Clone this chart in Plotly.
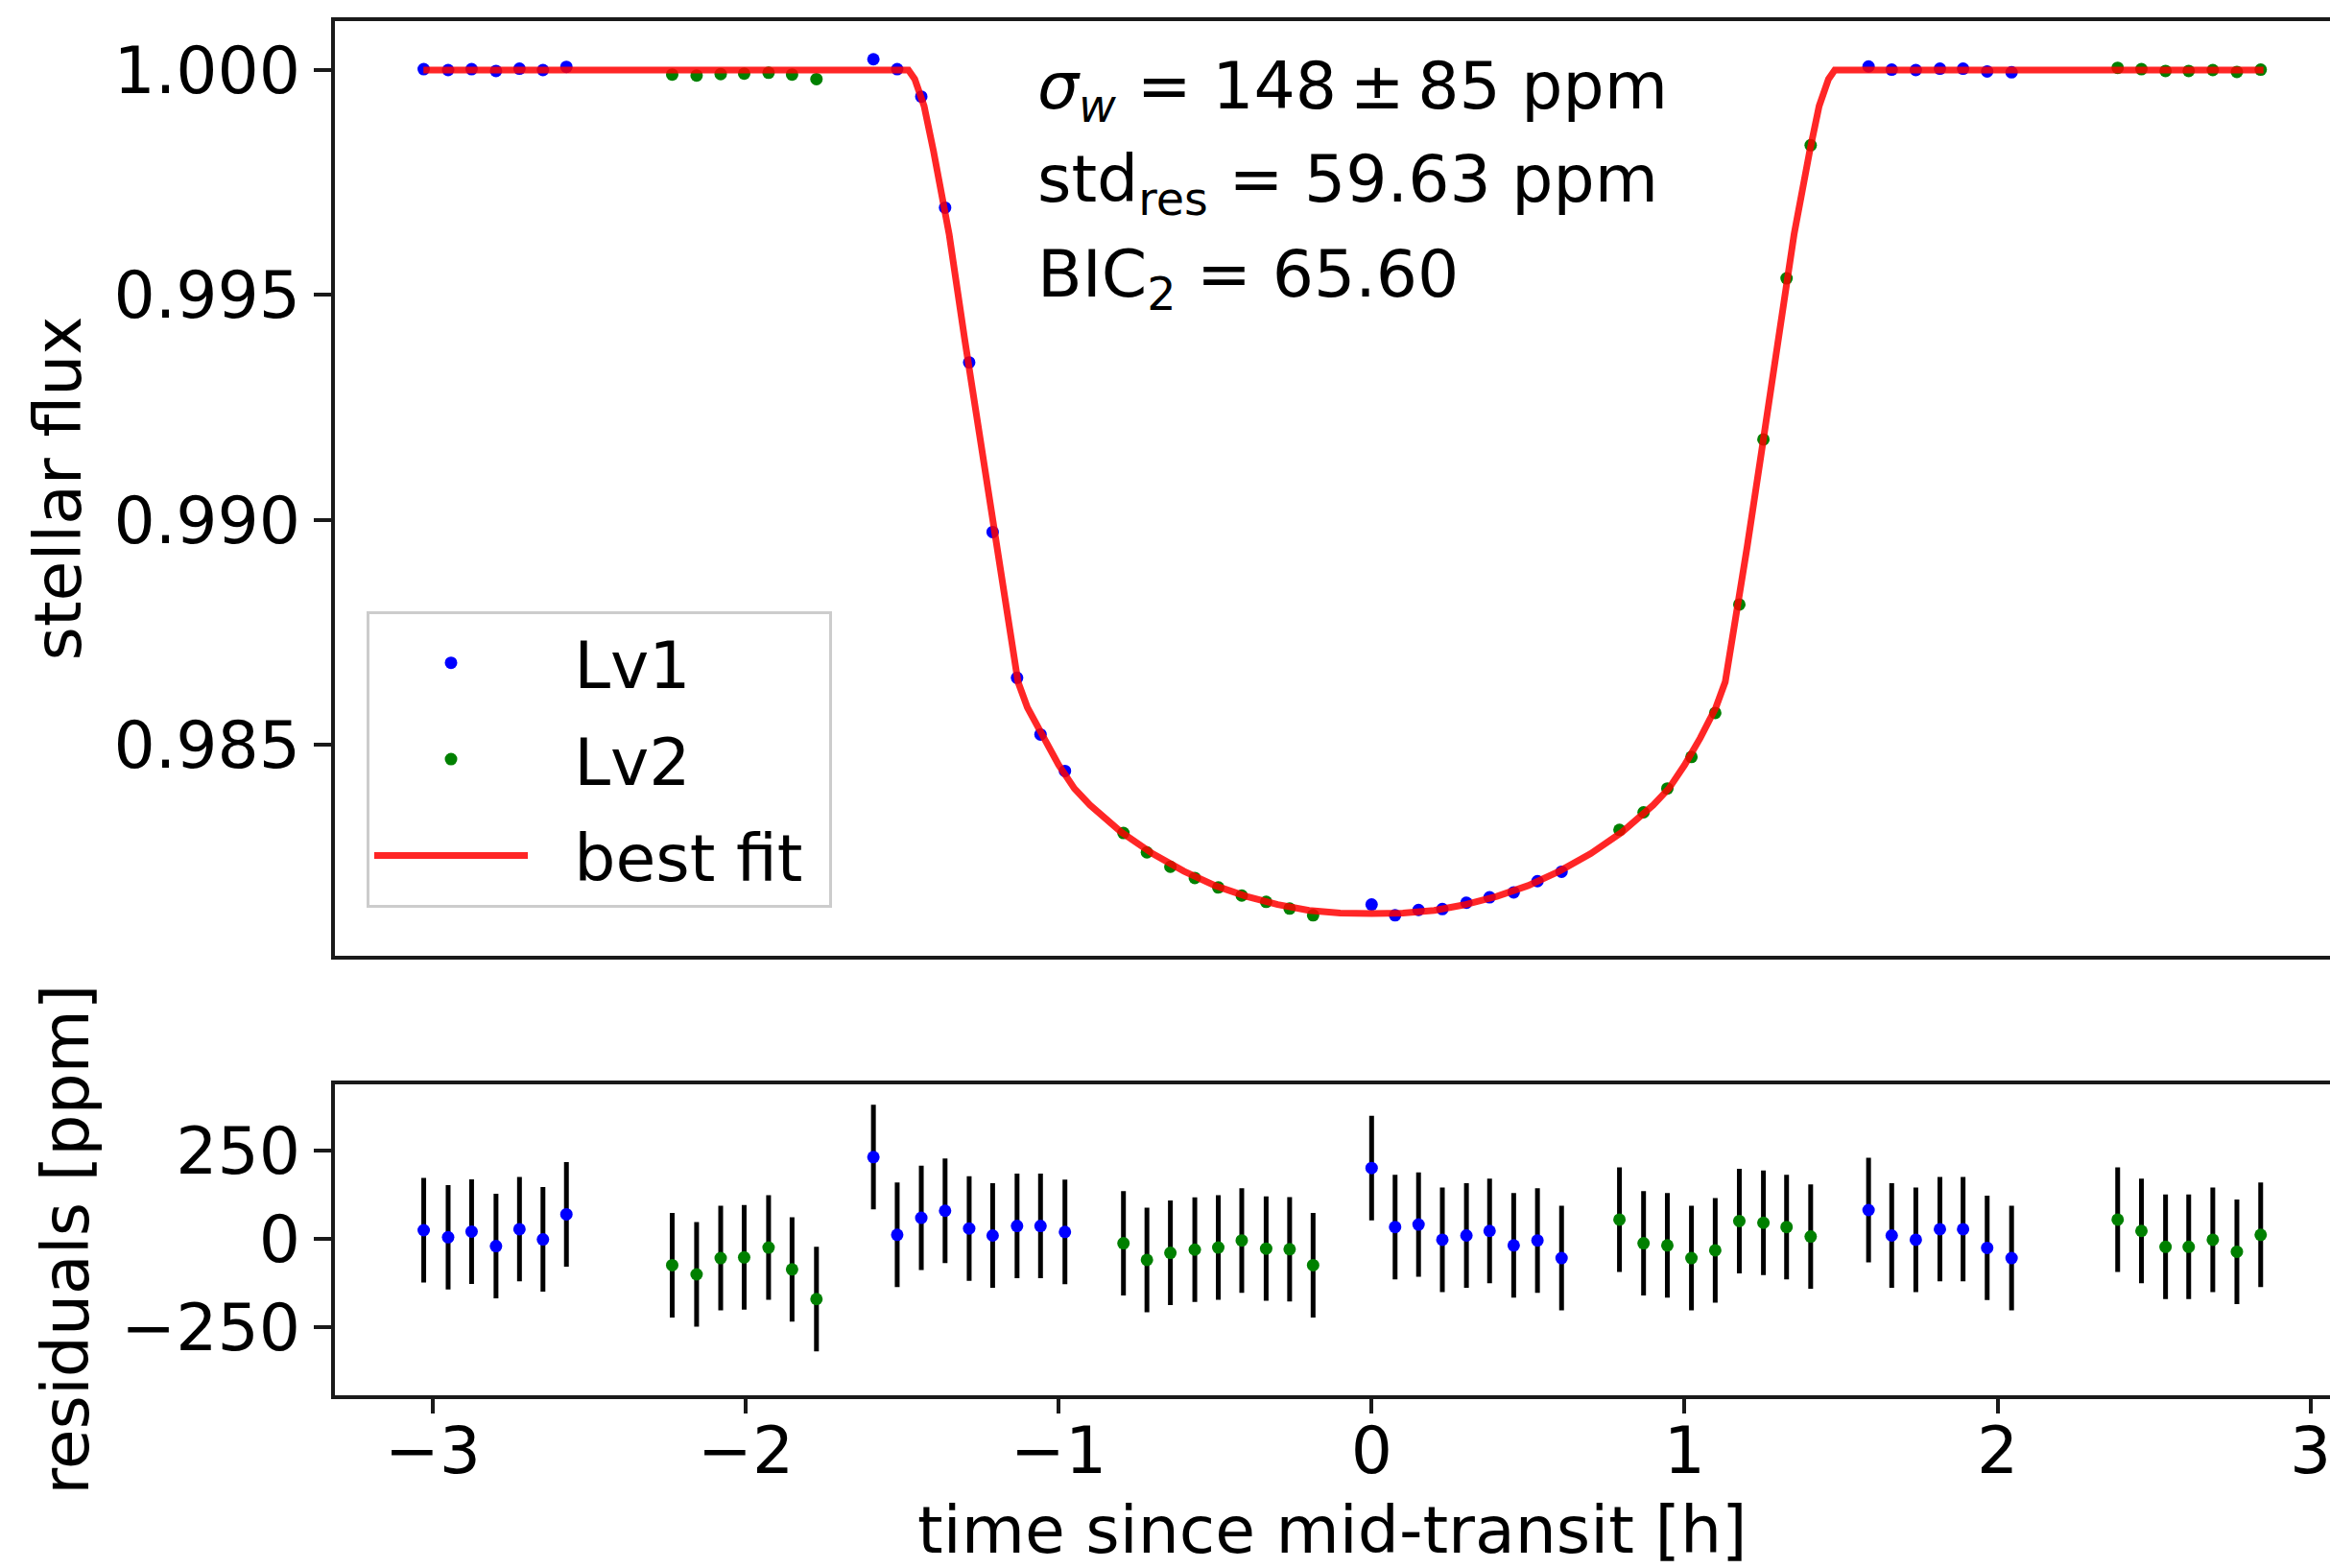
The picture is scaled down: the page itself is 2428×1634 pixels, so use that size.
import plotly.graph_objects as go

# ---- data -------------------------------------------------------------
# time since mid-transit [h], Lv1 visits
t_lv1 = [-3.029, -2.951, -2.876, -2.798, -2.723, -2.648, -2.573,
         -1.592, -1.516, -1.439, -1.363, -1.286, -1.211, -1.133, -1.058, -0.980,
         0.000, 0.075, 0.150, 0.226, 0.303, 0.377, 0.454, 0.530, 0.607,
         1.588, 1.662, 1.739, 1.816, 1.890, 1.967, 2.045]
flux_lv1 = [1.00002, 1.00000, 1.00002, 0.99998, 1.00003, 1.00000, 1.00007,
            1.00024, 1.00002, 0.99941, 0.99694, 0.99350, 0.98973, 0.98649, 0.98523, 0.98442,
            0.98145, 0.98121, 0.98133, 0.98135, 0.98149, 0.98161, 0.98172, 0.98197, 0.98218,
            1.00008, 1.00001, 1.00000, 1.00003, 1.00003, 0.99997, 0.99995]
res_lv1 = [25, 5, 21, -20, 28, -1, 70,
           232, 12, 60, 80, 30, 10, 37, 37, 20,
           201, 34, 41, -2, 10, 23, -18, -4, -54,
           82, 10, -2, 28, 28, -25, -54]
err_lv1 = [148] * 32

# Lv2 visits
t_lv2 = [-2.235, -2.157, -2.080, -2.005, -1.927, -1.852, -1.774,
         -0.793, -0.718, -0.643, -0.565, -0.490, -0.415, -0.337, -0.262, -0.187,
         0.792, 0.869, 0.945, 1.022, 1.098, 1.175, 1.252, 1.326, 1.403,
         2.384, 2.460, 2.537, 2.611, 2.688, 2.765, 2.841]
flux_lv2 = [0.99990, 0.99988, 0.99991, 0.99992, 0.99994, 0.99990, 0.99980,
            0.98304, 0.98261, 0.98229, 0.98204, 0.98183, 0.98165, 0.98151, 0.98136, 0.98121,
            0.98311, 0.98350, 0.98403, 0.98473, 0.98571, 0.98812, 0.99179, 0.99537, 0.99833,
            1.00005, 1.00002, 0.99998, 0.99998, 1.00000, 0.99996, 1.00001]
res_lv2 = [-74, -100, -54, -52, -24, -86, -170,
           -12, -59, -39, -30, -24, -4, -27, -29, -74,
           55, -12, -18, -54, -32, 51, 46, 34, 7,
           55, 23, -22, -22, -2, -36, 12]
err_lv2 = [148] * 32

# best-fit transit model
t_fit = [-3.03, -1.48, -1.46, -1.43, -1.40, -1.35, -1.30, -1.25, -1.20, -1.15,
         -1.13, -1.10, -1.05, -1.00, -0.95, -0.90, -0.80, -0.70, -0.60, -0.50,
         -0.40, -0.30, -0.20, -0.10, 0.00, 0.10, 0.20, 0.30, 0.40, 0.50,
         0.60, 0.70, 0.80, 0.90, 0.95, 1.00, 1.05, 1.10, 1.13, 1.15,
         1.20, 1.25, 1.30, 1.35, 1.40, 1.43, 1.46, 1.48, 2.85]
flux_fit = [1.00000, 1.00000, 0.99980, 0.99920, 0.99820, 0.99635, 0.99400, 0.99170, 0.98940, 0.98720,
            0.98640, 0.98583, 0.98515, 0.98455, 0.98403, 0.98366, 0.98306, 0.98258, 0.98219, 0.98187,
            0.98163, 0.98145, 0.98132, 0.98126, 0.98125, 0.98126, 0.98132, 0.98145, 0.98163, 0.98187,
            0.98219, 0.98258, 0.98306, 0.98366, 0.98403, 0.98455, 0.98515, 0.98583, 0.98640, 0.98720,
            0.98940, 0.99170, 0.99400, 0.99635, 0.99820, 0.99920, 0.99980, 1.00000, 1.00000]

flux_ticks = [0.985, 0.990, 0.995, 1.000]
res_ticks = [-250, 0, 250]
time_ticks = [-3, -2, -1, 0, 1, 2, 3]

stats_lines = [
    "<i>σ</i><sub><i>w</i></sub> = 148\u2009±\u200985 ppm",
    "std<sub>res</sub> = 59.63 ppm",
    "BIC<sub>2</sub> = 65.60",
]
stats_rows = [94, 191, 290]  # pixel rows of the three lines

# ---- styling ----------------------------------------------------------
W, H = 2428, 1634
FONT = "DejaVu Sans"
FS = 68
BLUE = "#0000ff"
GREEN = "#008000"
SPINE = "#1a1a1a"
LW = 4
MS = 13
PAD = "\u00a0\u00a0"  # gap between legend symbol and label


def py(px):
    """pixel row (from top) -> paper fraction"""
    return (H - px) / H


fig = go.Figure()

# light curve
fig.add_trace(go.Scatter(x=t_lv1, y=flux_lv1, mode="markers", name=PAD + "Lv1",
                         legendgroup="lv1",
                         marker=dict(color=BLUE, size=MS), xaxis="x", yaxis="y"))
fig.add_trace(go.Scatter(x=t_lv2, y=flux_lv2, mode="markers", name=PAD + "Lv2",
                         legendgroup="lv2",
                         marker=dict(color=GREEN, size=MS), xaxis="x", yaxis="y"))
fig.add_trace(go.Scatter(x=t_fit, y=flux_fit, mode="lines",
                         name=PAD + "best fit\u00a0", legendgroup="fit",
                         line=dict(color="rgba(255,0,0,0.85)", width=7),
                         xaxis="x", yaxis="y"))

# residuals
fig.add_trace(go.Scatter(x=t_lv1, y=res_lv1, mode="markers", showlegend=False,
                         marker=dict(color=BLUE, size=MS),
                         error_y=dict(type="data", array=err_lv1, color="black",
                                      thickness=5, width=0),
                         xaxis="x2", yaxis="y2"))
fig.add_trace(go.Scatter(x=t_lv2, y=res_lv2, mode="markers", showlegend=False,
                         marker=dict(color=GREEN, size=MS),
                         error_y=dict(type="data", array=err_lv2, color="black",
                                      thickness=5, width=0),
                         xaxis="x2", yaxis="y2"))

x_dom = [348.7 / W, 1.0]
x_rng = [-3.3137, 3.0625]
tickfont = dict(family=FONT, size=FS, color="black")
titlefont = dict(family=FONT, size=FS, color="black")

common_axis = dict(showline=True, linecolor=SPINE, linewidth=LW,
                   showgrid=False, zeroline=False, tickfont=tickfont,
                   tickcolor=SPINE, tickwidth=LW)

fig.update_layout(
    width=W, height=H,
    margin=dict(l=0, r=0, t=0, b=0),
    paper_bgcolor="white", plot_bgcolor="white",
    font=dict(family=FONT, size=FS, color="black"),
    xaxis=dict(domain=x_dom, range=x_rng, anchor="y", mirror=True,
               showticklabels=False, ticks="", matches="x2", **common_axis),
    yaxis=dict(domain=[py(996), py(22)], range=[0.980311, 1.001088], anchor="x",
               tickvals=flux_ticks, tickformat=".3f", ticks="outside", ticklen=18,
               title=dict(text="stellar flux", font=titlefont, standoff=13),
               **common_axis),
    xaxis2=dict(domain=x_dom, range=x_rng, anchor="y2", mirror=True,
                tickvals=time_ticks, ticks="outside", ticklen=15,
                ticklabelstandoff=-19, ticklabeloverflow="allow",
                title=dict(text="time since mid-transit [h]", font=titlefont,
                           standoff=29),
                **common_axis),
    yaxis2=dict(domain=[py(1453.5), py(1130)], range=[-441, 438], anchor="x2",
                tickvals=res_ticks, ticks="outside", ticklen=18,
                title=dict(text="residuals [ppm]", font=titlefont, standoff=13),
                **common_axis),
    legend=dict(x=382 / W, y=py(637), xanchor="left", yanchor="top",
                bgcolor="rgba(255,255,255,0.8)", bordercolor="#cccccc",
                borderwidth=3, font=dict(family=FONT, size=FS, color="black"),
                itemwidth=160, tracegroupgap=9, traceorder="grouped"),
    showlegend=True,
)

for row, txt in zip(stats_rows, stats_lines):
    fig.add_annotation(text=txt, x=1079 / W, y=py(row), xref="paper", yref="paper",
                       xanchor="left", yanchor="middle", showarrow=False,
                       font=dict(family=FONT, size=FS, color="black"))

fig.write_html("out.html")
